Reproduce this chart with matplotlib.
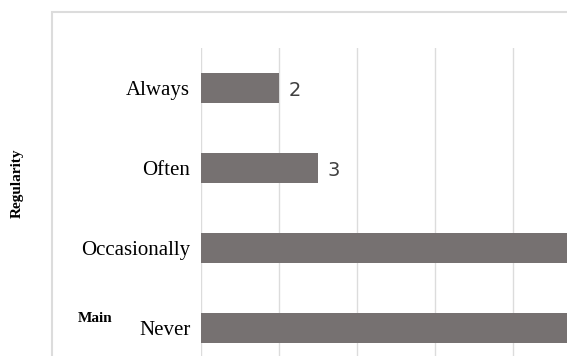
import matplotlib.pyplot as plt
from matplotlib.patches import Rectangle
import numpy as np

# data (the two long bars run past the right edge of the picture)
categories = ["Always", "Often", "Occasionally", "Never"]
counts = [2, 3, 11, 12]
grid_ticks = [0, 2, 4, 6, 8, 10, 12, 14, 16]

W, H = 567, 356
fig = plt.figure(figsize=(W / 100, H / 100), dpi=100)
fig.patch.set_facecolor("#ffffff")

# chart area border, runs off the right and bottom edge
border = Rectangle((51.7 / W, -0.2), 1.5, 1 - 12.3 / H + 0.2,
                   transform=fig.transFigure, fill=False,
                   edgecolor="#dcdcdc", linewidth=1.5, clip_on=False)
fig.patches.append(border)

# plot area: 38.9 px per unit, 80 px per category
px_unit = 38.9
left = 201.4
top = 47.7
xmax = 16
ax = fig.add_axes([left / W, (H - top - 320) / H, xmax * px_unit / W, 320 / H])

y = np.arange(len(categories))
ax.barh(y, counts, height=0.375, color="#767171", zorder=3)
ax.set_xlim(0, xmax)
ax.set_ylim(len(categories) - 0.5, -0.5)

ax.set_xticks(grid_ticks)
ax.set_xticklabels([])
ax.grid(axis="x", color="#dcdcdc", linewidth=1, zorder=0)
ax.tick_params(length=0)
for s in ax.spines.values():
    s.set_visible(False)

ax.set_yticks(y)
ax.set_yticklabels(categories, family="Liberation Serif", fontsize=15)
ax.tick_params(axis="y", pad=8)

# value labels; those of the long bars fall outside the cropped picture
visible_max = (W - left) / px_unit
for yi, v in zip(y, counts):
    if v + 0.6 > visible_max:
        continue
    ax.text(v + 0.25, yi + 0.03, str(v), va="center", ha="left",
            fontsize=14, color="#404040",
            family=["Liberation Sans Narrow", "DejaVu Sans"])

fig.text(17 / W, 1 - 183 / H, "Regularity", rotation=90, ha="center",
         va="center", family="Liberation Serif", fontweight="bold", fontsize=11)
fig.text(78 / W, 1 - 318 / H, "Main", ha="left", va="center",
         family="Liberation Serif", fontweight="bold", fontsize=11)

fig.savefig("out.png", dpi=100)
